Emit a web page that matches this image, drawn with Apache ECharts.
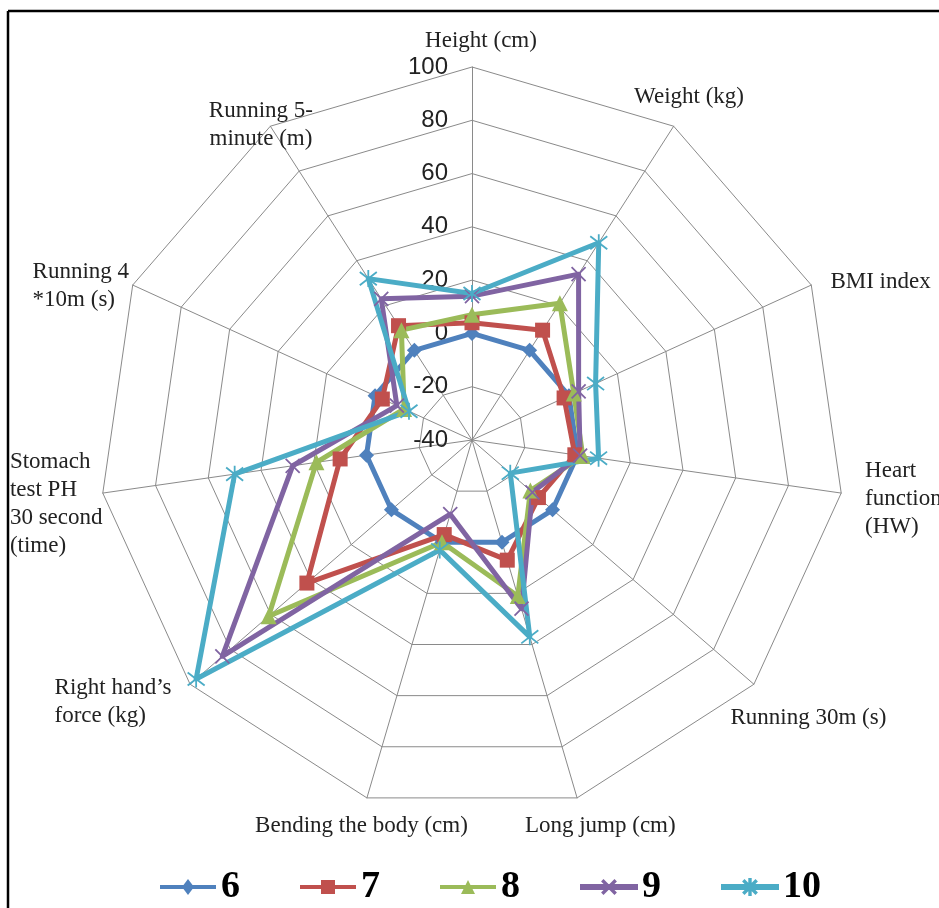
<!DOCTYPE html>
<html>
<head>
<meta charset="utf-8">
<script src="https://cdn.jsdelivr.net/npm/echarts@6/dist/echarts.min.js"></script>
<style>
  html, body { margin: 0; padding: 0; background: #fff; }
  #chart { width: 939px; height: 908px; }
</style>
</head>
<body>
<div id="chart"></div>
<script>
// Fitness indicators, listed clockwise starting from the top spoke
const indicatorNames = [
  'Height (cm)',
  'Weight (kg)',
  'BMI index',
  'Heart\nfunction\n(HW)',
  'Running 30m (s)',
  'Long jump (cm)',
  'Bending the body (cm)',
  'Right hand\u2019s\nforce (kg)',
  'Stomach\ntest PH\n30 second\n(time)',
  'Running 4\n*10m (s)',
  'Running 5-\nminute (m)'
];

// Scale shared by every spoke
const axisMin = -40;
const axisMax = 100;
const axisInterval = 20;

// Age groups (legend) and their values, same order as indicatorNames
const groupNames = ['6', '7', '8', '9', '10'];
const age6  = [0, 0, 0, 0, 0, 0, 0, 0, 0, 0, 0];
const age7  = [4, 9, -2, -1, -7, 7, -3, 42, 10, -3, 11];
const age8  = [7, 21, 2, 2, -11, 21, 0, 61, 19, -12, 9];
const age9  = [14, 34, 4, 1, -10, 26, -11, 84, 28, -9, 23];
const age10 = [15, 48, 11, 8, -21, 37, 3, 97, 50, -14, 32];
const groupValues = [age6, age7, age8, age9, age10];

const colors = ['#4F81BD', '#C0504D', '#9BBB59', '#8064A2', '#4BACC6'];
const crossPath = 'path://M0,0L10,10M10,0L0,10';
const starPath = 'path://M0,0L10,10M10,0L0,10M5,-1.5L5,11.5';
const symbols = ['diamond', 'rect', 'triangle', crossPath, starPath];
const symbolSizes = [15, 15, 16, 14, 17];

// Legend keys: a short line with the group's marker in the middle (56 x 16 box)
const keyLine = 'M0,6L56,6L56,10L0,10Z';
const keyCross = 'M21.5,2.5L22.5,1.5L34.5,13.5L33.5,14.5ZM33.5,1.5L34.5,2.5L22.5,14.5L21.5,13.5Z';
const legendIcons = [
  'path://' + keyLine + 'M22,8L28,0L34,8L28,16Z',
  'path://' + keyLine + 'M21,1L35,1L35,15L21,15Z',
  'path://' + keyLine + 'M21,15L28,1L35,15Z',
  'path://' + keyLine + keyCross,
  'path://' + keyLine + keyCross + 'M27.3,0L28.7,0L28.7,16L27.3,16Z'
];

// Name placement per spoke: text box alignment and offset from the spoke end
const nameAlign = ['center', 'left', 'left', 'left', 'left', 'left', 'left', 'left', 'left', 'left', 'center'];
const nameOffset = [[18, -27], [-45, -35], [10, -13], [14, -38], [-31, 13], [-55, 4], [-109, 4],
                    [-128, -17], [-83, -47], [-91, -23], [-8, -21]];

// ECharts lays radar spokes out counter-clockwise; reorder so they run clockwise
const order = indicatorNames.map((_, i) => (i === 0 ? 0 : indicatorNames.length - i));

const indicator = order.map((k, j) => {
  const item = {
    name: indicatorNames[k],
    min: axisMin,
    max: axisMax,
    nameTextStyle: {
      align: nameAlign[k],
      verticalAlign: 'top',
      padding: [nameOffset[k][1], 0, 0, nameOffset[k][0]]
    }
  };
  if (j !== 0) item.axisLabel = { show: false };
  return item;
});

const series = groupNames.map((g, s) => ({
  name: g,
  type: 'radar',
  symbol: symbols[s],
  symbolSize: symbolSizes[s],
  lineStyle: { color: colors[s], width: 5 },
  itemStyle: {
    color: colors[s],
    borderColor: colors[s],
    borderWidth: s >= 3 ? 1.8 : 0
  },
  emphasis: { disabled: true },
  data: [{ name: g, value: order.map(k => groupValues[s][k]) }]
}));

const chart = echarts.init(document.getElementById('chart'), null, { renderer: 'canvas' });
chart.setOption({
  backgroundColor: '#ffffff',
  animation: false,
  color: colors,
  graphic: [
    { type: 'line', shape: { x1: 8, y1: 11, x2: 939, y2: 11 }, style: { stroke: '#000', lineWidth: 2.5 } },
    { type: 'line', shape: { x1: 8, y1: 11, x2: 8, y2: 908 }, style: { stroke: '#000', lineWidth: 2.5 } }
  ],
  legend: {
    data: groupNames.map((g, i) => ({ name: g, icon: legendIcons[i] })),
    left: 155,
    bottom: -3,
    itemWidth: 56,
    itemHeight: 16,
    itemGap: 60,
    textStyle: { fontFamily: 'Liberation Serif', fontWeight: 'bold', fontSize: 38, color: '#000' }
  },
  radar: {
    center: [472, 440],
    radius: 373,
    startAngle: 90,
    shape: 'polygon',
    splitNumber: (axisMax - axisMin) / axisInterval,
    indicator: indicator,
    nameGap: 10,
    axisName: { color: '#222', fontFamily: 'Liberation Serif', fontSize: 23, lineHeight: 28 },
    axisLine: { lineStyle: { color: '#8a8a8a', width: 1 } },
    splitLine: { lineStyle: { color: '#8a8a8a', width: 1 } },
    splitArea: { show: false },
    axisTick: { show: false },
    axisLabel: {
      show: true, color: '#222', fontFamily: 'Liberation Sans', fontSize: 24,
      margin: 24, padding: [12, 0, 0, 0]
    }
  },
  series: series
});
</script>
</body>
</html>
